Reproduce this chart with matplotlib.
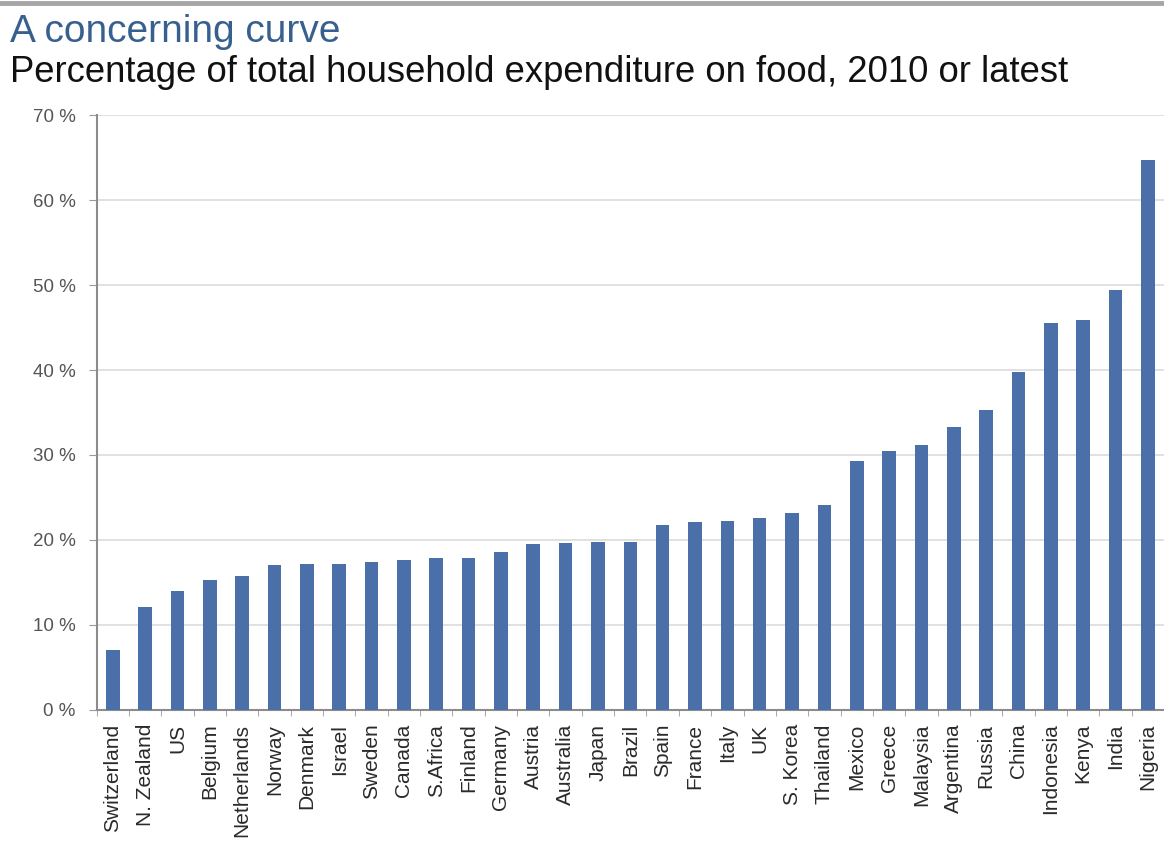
import numpy as np
import matplotlib.pyplot as plt
from matplotlib.ticker import FixedLocator

plt.rcParams['font.family'] = ['Liberation Sans', 'DejaVu Sans']

countries = ['Switzerland', 'N. Zealand', 'US', 'Belgium', 'Netherlands', 'Norway',
             'Denmark', 'Israel', 'Sweden', 'Canada', 'S.Africa', 'Finland',
             'Germany', 'Austria', 'Australia', 'Japan', 'Brazil', 'Spain',
             'France', 'Italy', 'UK', 'S. Korea', 'Thailand', 'Mexico', 'Greece',
             'Malaysia', 'Argentina', 'Russia', 'China', 'Indonesia', 'Kenya',
             'India', 'Nigeria']
food_share = [7.0, 12.1, 14.0, 15.3, 15.8, 17.0, 17.2, 17.2, 17.4, 17.6, 17.9, 17.9,
              18.6, 19.5, 19.6, 19.8, 19.8, 21.8, 22.1, 22.2, 22.6, 23.2, 24.1,
              29.3, 30.5, 31.2, 33.3, 35.3, 39.8, 45.5, 45.9, 49.4, 64.7]
y_ticks = [0, 10, 20, 30, 40, 50, 60, 70]

fig = plt.figure(figsize=(11.64, 8.41), dpi=100)
ax = fig.add_axes([0.083, 0.156, 0.917, 0.707])

x = np.arange(len(countries))
ax.bar(x, food_share, width=0.42, color='#4b6fa8', zorder=3)

ax.set_xlim(-0.5, len(countries) - 0.5)
ax.set_ylim(0, 70)
ax.set_yticks(y_ticks)
ax.set_yticklabels(['{} %'.format(v) for v in y_ticks], fontsize=13.5, color='#555555')
ax.yaxis.grid(True, color='#dcdcdc', lw=1.2, zorder=0)

ax.set_xticks(x)
ax.set_xticklabels(countries, rotation=90, fontsize=15, color='#2a2a2a')
ax.tick_params(axis='x', which='major', length=0, pad=10)
ax.xaxis.set_minor_locator(FixedLocator(np.arange(-0.5, len(countries), 1)))
ax.tick_params(axis='x', which='minor', length=4, color='#999999')
ax.tick_params(axis='y', length=6, color='#999999', pad=9)

for side in ['top', 'right']:
    ax.spines[side].set_visible(False)
for side in ['left', 'bottom']:
    ax.spines[side].set_color('#8c8c8c')
    ax.spines[side].set_linewidth(1.5)

fig.add_artist(plt.Line2D([0, 1], [0.997, 0.997], color='#a6a6a6', lw=3.5))
fig.text(0.009, 0.950, 'A concerning curve', fontsize=28, color='#37608e', va='baseline')
fig.text(0.009, 0.9025, 'Percentage of total household expenditure on food, 2010 or latest',
         fontsize=26.3, color='#111111', va='baseline')

fig.savefig('out.png', dpi=100)
